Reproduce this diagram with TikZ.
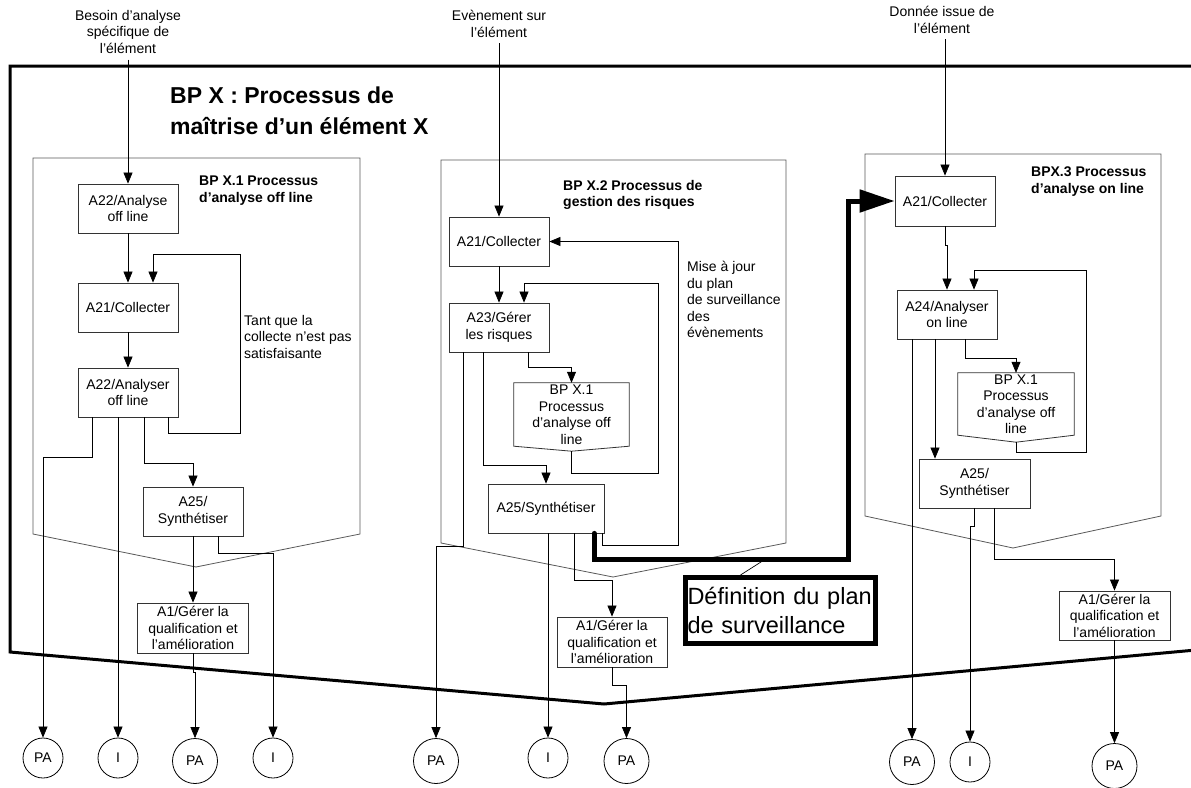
\documentclass[tikz,border=0pt]{standalone}
\usepackage{fontspec}
\setmainfont{Liberation Sans}
\usetikzlibrary{arrows.meta,calc,positioning}
\newcommand\boxtxt{\fontsize{14}{16.5}\selectfont}
\newcommand\titletxt{\fontsize{23}{31}\selectfont\bfseries}
\newcommand\plantxt{\fontsize{23.5}{29}\selectfont}
\tikzset{
 act/.style={draw=black!80,fill=white,line width=.8pt,align=center,inner sep=1pt,
  minimum width=100pt,minimum height=49pt,font=\boxtxt},
 offp/.style={align=center,inner sep=0pt,minimum width=115pt,minimum height=63pt,font=\boxtxt},
 boxline/.style={draw=black!80,line width=.8pt},
 term/.style={circle,draw,line width=.8pt,minimum size=40pt,inner sep=0pt,font=\boxtxt},
 bigterm/.style={term,minimum size=45pt},
 flow/.style={line width=.7pt,-{Triangle[length=11pt,width=9pt]}},
 link/.style={line width=.7pt},
 frame/.style={draw=black!65,line width=.8pt},
 lbl/.style={anchor=north west,align=left,inner sep=0pt,font=\boxtxt},
 inlbl/.style={anchor=north,align=center,inner sep=0pt,font=\boxtxt},
 sublbl/.style={lbl,font=\boxtxt\bfseries},
 plan/.style={line width=5pt,line cap=round,-{Triangle[length=35pt,width=22pt]}},
}

\begin{document}
\begin{tikzpicture}[x=1pt,y=-1pt,line join=miter]
 \useasboundingbox (0,0) rectangle (1191,787);
 % outer process BP X
 \draw[line width=3pt] (1196,66) -- (10,66) -- (10,652) -- (604,704) -- (1196,650);
 \node[lbl,font=\titletxt] (title) at (170,87) {BP X : Processus de\\maîtrise d’un élément X};
 % sub-process frames
 \draw[frame] (33,534) -- (33,158) -- (360,158) -- (360,534) -- (196,567) -- cycle;
 \draw[frame] (441,543) -- (441,160) -- (786,160) -- (786,543) -- (613,577) -- cycle;
 \draw[frame] (865,516) -- (865,154) -- (1161,154) -- (1161,516) -- (1013,548) -- cycle;
 \node[sublbl] (sub1) at (199,176) {BP X.1 Processus\\d’analyse off line};
 \node[sublbl] (sub2) at (563,180) {BP X.2 Processus de\\gestion des risques};
 \node[sublbl] (sub3) at (1031,167) {BPX.3 Processus\\d’analyse on line};

 % inputs
 \node[inlbl] (inA) at (128,10) {Besoin d’analyse\\spécifique de\\l’élément};
 \node[inlbl] (inB) at (499,10) {Evènement sur\\l’élément};
 \node[inlbl] (inC) at (942,6) {Donnée issue de\\l’élément};

 % BP X.1
 \node[act] (a22a) at (128,208.5) {A22/Analyse\\off line};
 \node[act] (a21a) at (128,307.5) {A21/Collecter};
 \node[act] (a22b) at (128,392.5) {A22/Analyser\\off line};
 \node[act] (a25a) at (193,511.5) {A25/\\Synthétiser};
 \node[act,minimum width=111pt,minimum height=50pt] (a1a) at (193,628) {A1/Gérer la\\qualification et\\l’amélioration};
 \node[lbl] (loopA) at (244,315) {Tant que la\\collecte n’est pas\\satisfaisante};

 % BP X.2
 \node[act] (a21b) at (499,241.5) {A21/Collecter};
 \node[act] (a23b) at (499,327.5) {A23/Gérer\\les risques};
 \node[offp] (x1b) at (571.5,414.5) {BP X.1\\Processus\\d’analyse off\\line};
 \coordinate (x1btip) at ([yshift=-5pt]x1b.south);
 \draw[boxline] (x1b.south west) |- (x1b.north east) -- (x1b.south east) -- (x1btip) -- cycle;
 \node[act,minimum width=116pt] (a25b) at (546,508.5) {A25/Synthétiser};
 \node[act,minimum width=110pt,minimum height=50pt] (a1b) at (612,642) {A1/Gérer la\\qualification et\\l’amélioration};
 \node[lbl] (loopB) at (687,261) {Mise à jour\\du plan\\de surveillance\\des\\évènements};

 % BPX.3
 \node[act,minimum height=50pt] (a21c) at (945,201) {A21/Collecter};
 \node[act] (a24c) at (947,314.5) {A24/Analyser\\on line};
 \node[offp,minimum width=116pt,minimum height=62pt] (x1c) at (1016,404) {BP X.1\\Processus\\d’analyse off\\line};
 \coordinate (x1ctip) at ([yshift=-7pt]x1c.south);
 \draw[boxline] (x1c.south west) |- (x1c.north east) -- (x1c.south east) -- (x1ctip) -- cycle;
 \node[act,minimum width=111pt] (a25c) at (974.5,483.5) {A25/\\Synthétiser};
 \node[act,minimum width=111pt] (a1c) at (1114.5,615.5) {A1/Gérer la\\qualification et\\l’amélioration};

 % outputs
 \node[term] (paA) at (43,758) {PA};
 \node[term] (iA) at (118,758) {I};
 \node[bigterm] (paB) at (195,761) {PA};
 \node[term] (iB) at (273,758) {I};
 \node[bigterm] (paC) at (436,761) {PA};
 \node[term] (iC) at (548,758) {I};
 \node[bigterm] (paD) at (626.5,761) {PA};
 \node[bigterm] (paE) at (912,762) {PA};
 \node[term] (iD) at (970,762) {I};
 \node[bigterm] (paF) at (1114.5,766) {PA};

 % plan box
 \node[draw,line width=5pt,minimum width=190pt,minimum height=66pt,text width=186pt,
  align=left,inner sep=2pt,font=\plantxt] (defn) at (780.5,610.5) {Définition du plan\\de surveillance};

 % left flows
 \draw[flow,shorten <=6pt] (a22a.north |- inA.south) -- (a22a);
 \draw[flow] (a22a) -- (a21a);
 \draw[flow] (a21a) -- (a22b);
 \draw[flow] ([xshift=40pt]a22b.south) -- ++(0,16) -- ++(72,0) -- ++(0,-179) -| ([xshift=25pt]a21a.north);
 \draw[flow] ([xshift=-36pt]a22b.south) -- ++(0,40) -| (paA);
 \draw[flow] ([xshift=-10pt]a22b.south) -- (iA);
 \draw[flow] ([xshift=16pt]a22b.south) -- ++(0,46) -| (a25a);
 \draw[flow] (a25a) -- (a1a);
 \draw[flow] ([xshift=25pt]a25a.south) -- ++(0,17) -| (iB);
 \draw[flow] (a1a.south) -- ++(0,19) -| (paB);

 % middle flows
 \draw[flow,shorten <=6pt] (a21b.north |- inB.south) -- (a21b);
 \draw[flow] (a21b) -- (a23b);
 \draw[flow] ([xshift=-2pt]a25b.south east) -- ++(0,12) -- ++(76,0) |- (a21b);
 \draw[flow] (x1btip) -- ++(0,22) -- ++(87,0) -- ++(0,-190) -| ([xshift=25pt]a23b.north);
 \draw[flow] ([xshift=29pt]a23b.south) -- ++(0,15) -| (x1b);
 \draw[flow] ([xshift=-16pt]a23b.south) -- ++(0,113) -| (a25b);
 \draw[flow] ([xshift=-36pt]a23b.south) -- ++(0,194) -- ++(-27,0) -- (paC);
 \draw[flow] ([xshift=2pt]a25b.south) -- (iC);
 \draw[flow] ([xshift=28pt]a25b.south) -- ++(0,47) -| (a1b);
 \draw[flow] (a1b.south) -- ++(0,18) -| (paD);
 \draw[plan] ([xshift=48pt]a25b.south) -- ++(0,26) -- ++(254,0) |- (a21c);
 \draw[link] ([xshift=-40pt]defn.north) -- ++(22,-14);

 % right flows
 \draw[flow,shorten <=6pt] (a21c.north |- inC.south) -- (a21c);
 \draw[flow] (a21c.south) -- ++(0,19) -| (a24c.north);
 \draw[flow] (x1ctip) -- ++(0,10) -- ++(70,0) -- ++(0,-182) -| ([xshift=27pt]a24c.north);
 \draw[flow] ([xshift=18pt]a24c.south) -- ++(0,19) -| (x1c);
 \draw[flow] ([xshift=-12pt]a24c.south) -- ([xshift=-39.5pt]a25c.north);
 \draw[flow] ([xshift=-35pt]a24c.south) -- (paE);
 \draw[flow] (a25c.south) -- ++(0,18) -| (iD);
 \draw[flow] ([xshift=20pt]a25c.south) -- ++(0,51) -| (a1c);
 \draw[flow] (a1c) -- (paF);
\end{tikzpicture}
\end{document}
